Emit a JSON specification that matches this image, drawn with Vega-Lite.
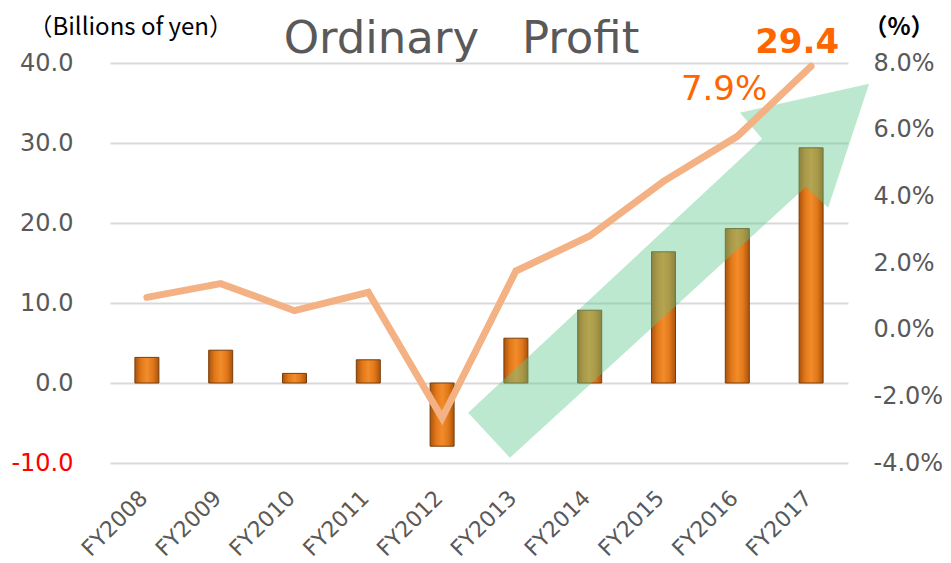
{
  "$schema": "https://vega.github.io/schema/vega-lite/v6.json",
  "width": 738,
  "height": 400,
  "autosize": {"type": "none"},
  "padding": {"left": 110, "top": 63, "right": 103, "bottom": 100},
  "background": "white",
  "config": {
    "view": {"stroke": null},
    "locale": {"number": {"decimal": ".", "thousands": ",", "grouping": [3], "currency": ["$", ""], "minus": "-"}}
  },
  "data": {
    "values": [
      {"fy": "FY2008", "profit": 3.2, "ratio": 0.0097},
      {"fy": "FY2009", "profit": 4.1, "ratio": 0.0138},
      {"fy": "FY2010", "profit": 1.2, "ratio": 0.0057},
      {"fy": "FY2011", "profit": 2.9, "ratio": 0.0112},
      {"fy": "FY2012", "profit": -7.9, "ratio": -0.0265},
      {"fy": "FY2013", "profit": 5.6, "ratio": 0.0176},
      {"fy": "FY2014", "profit": 9.1, "ratio": 0.0281},
      {"fy": "FY2015", "profit": 16.4, "ratio": 0.0445},
      {"fy": "FY2016", "profit": 19.3, "ratio": 0.058},
      {"fy": "FY2017", "profit": 29.4, "ratio": 0.079}
    ]
  },
  "encoding": {
    "x": {
      "field": "fy",
      "type": "nominal",
      "sort": null,
      "axis": {
        "title": "Ordinary\u00a0\u00a0\u00a0Profit",
        "titleFont": "DejaVu Sans",
        "titleFontSize": 45,
        "titleFontWeight": "normal",
        "titleColor": "#595959",
        "titleAlign": "center",
        "titleBaseline": "alphabetic",
        "titleX": 351,
        "titleY": -411,
        "labelAngle": -45,
        "labelFont": "DejaVu Sans",
        "labelFontSize": 22,
        "labelColor": "#595959",
        "labelPadding": 24,
        "labelOffset": -10,
        "ticks": false,
        "domain": false,
        "grid": false
      }
    }
  },
  "layer": [
    {
      "encoding": {
        "y": {
          "field": "profit",
          "type": "quantitative",
          "scale": {"domain": [-10, 40], "nice": false},
          "axis": {
            "orient": "left",
            "values": [-10, 0, 10, 20, 30, 40],
            "format": ".1f",
            "grid": true,
            "gridColor": "#D9D9D9",
            "gridWidth": 2,
            "domain": false,
            "ticks": false,
            "labelFont": "DejaVu Sans",
            "labelFontSize": 24,
            "labelColor": {"condition": {"test": "datum.value < 0", "value": "#FF0000"}, "value": "#595959"},
            "labelPadding": 37,
            "title": "（Billions of yen）",
            "titleAngle": 0,
            "titleAlign": "left",
            "titleBaseline": "alphabetic",
            "titleX": -82,
            "titleY": -29,
            "titleFont": "Noto Sans CJK JP",
            "titleFontSize": 24,
            "titleFontWeight": "normal",
            "titleColor": "#000000"
          }
        }
      },
      "layer": [
        {
          "mark": {
            "type": "bar",
            "size": 24,
            "stroke": "#7A3E0A",
            "strokeWidth": 1,
            "fill": {
              "gradient": "linear",
              "x1": 0, "x2": 1, "y1": 0, "y2": 0,
              "stops": [
                {"offset": 0, "color": "#A9530E"},
                {"offset": 0.25, "color": "#E27819"},
                {"offset": 0.5, "color": "#F28C2B"},
                {"offset": 0.75, "color": "#E27819"},
                {"offset": 1, "color": "#A9530E"}
              ]
            }
          }
        },
        {
          "transform": [{"filter": "datum.fy == 'FY2015'"}],
          "mark": {
            "type": "point",
            "shape": "M1.003,-0.912L0.803,-0.307L0.695,-0.41L-0.749,0.912L-0.953,0.693L0.481,-0.644L0.373,-0.771Z",
            "size": 168100,
            "filled": true,
            "fill": "#5CC98A",
            "fillOpacity": 0.42,
            "strokeWidth": 0,
            "opacity": 1,
            "yOffset": 19
          }
        },
        {
          "transform": [{"filter": "datum.fy == 'FY2017'"}],
          "mark": {
            "type": "text",
            "font": "DejaVu Sans",
            "fontSize": 34,
            "fontWeight": "bold",
            "color": "#FF6600",
            "baseline": "alphabetic",
            "align": "center",
            "dx": -14,
            "dy": -95
          },
          "encoding": {
            "text": {"field": "profit", "type": "quantitative", "format": ".1f"}
          }
        }
      ]
    },
    {
      "encoding": {
        "y": {
          "field": "ratio",
          "type": "quantitative",
          "scale": {"domain": [-0.04, 0.08], "nice": false, "zero": false},
          "axis": {
            "orient": "right",
            "values": [-0.04, -0.02, 0, 0.02, 0.04, 0.06, 0.08],
            "format": ".1%",
            "grid": false,
            "domain": false,
            "ticks": false,
            "labelFont": "DejaVu Sans",
            "labelFontSize": 24,
            "labelColor": "#595959",
            "labelPadding": 25,
            "title": "（%）",
            "titleAngle": 0,
            "titleAlign": "left",
            "titleBaseline": "alphabetic",
            "titleX": 15,
            "titleY": -29,
            "titleFont": "Noto Sans CJK JP",
            "titleFontSize": 24,
            "titleFontWeight": "bold",
            "titleColor": "#000000"
          }
        }
      },
      "layer": [
        {
          "mark": {
            "type": "line",
            "color": "#F4B183",
            "strokeWidth": 7,
            "strokeCap": "round",
            "strokeJoin": "miter"
          }
        },
        {
          "transform": [{"filter": "datum.fy == 'FY2017'"}],
          "mark": {
            "type": "text",
            "font": "DejaVu Sans",
            "fontSize": 34,
            "fontWeight": "normal",
            "color": "#FF6600",
            "baseline": "alphabetic",
            "align": "center",
            "dx": -87,
            "dy": 34
          },
          "encoding": {
            "text": {"field": "ratio", "type": "quantitative", "format": ".1%"}
          }
        }
      ]
    }
  ],
  "resolve": {"scale": {"y": "independent"}, "axis": {"y": "independent"}}
}
